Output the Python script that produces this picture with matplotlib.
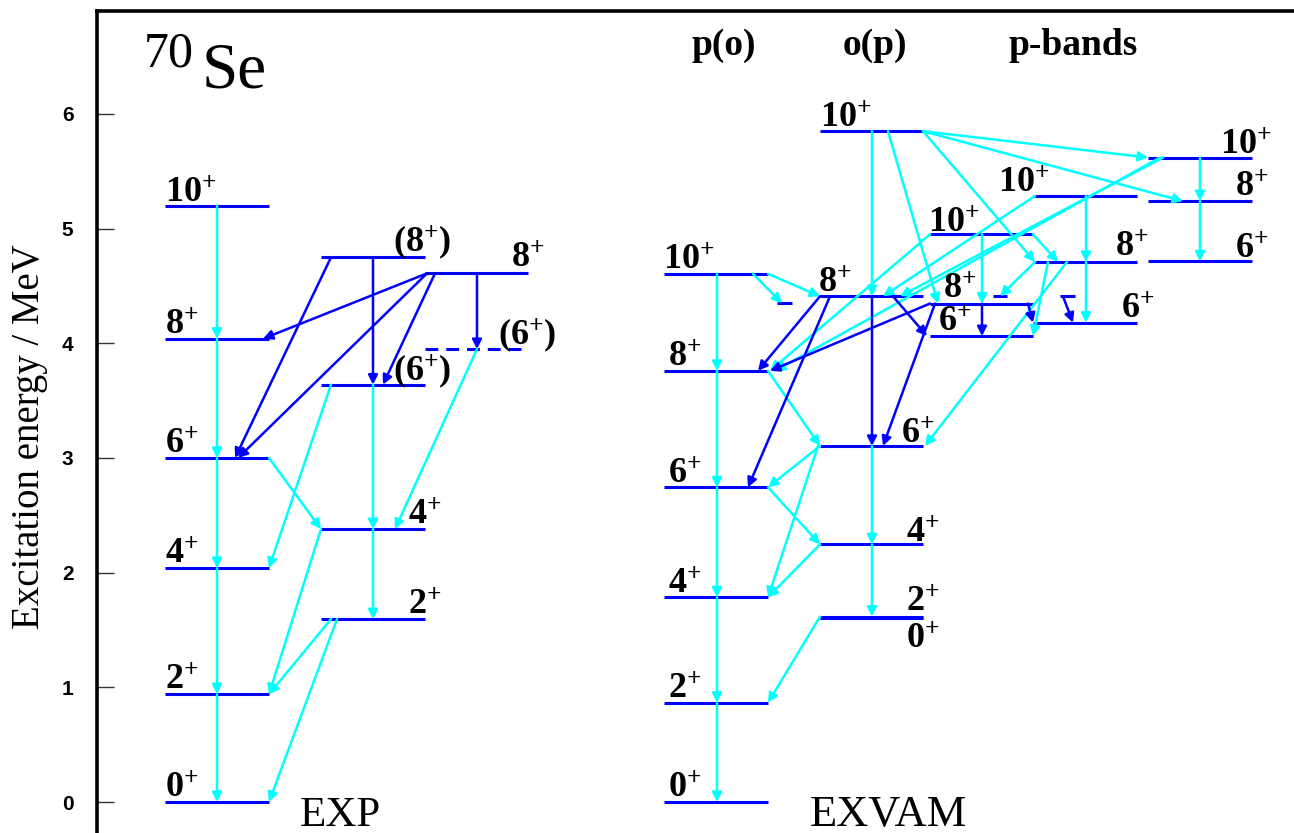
import matplotlib.pyplot as plt

plt.rcParams['mathtext.fontset'] = 'custom'
plt.rcParams['mathtext.rm'] = 'Liberation Serif'
plt.rcParams['mathtext.bf'] = 'Liberation Serif:bold'

# level energies in MeV
exp_gsb = [0.0, 0.94, 2.04, 3.00, 4.04, 5.20]     # 0+ 2+ 4+ 6+ 8+ 10+
exp_side = [1.595, 2.38, 3.64, 4.75]              # 2+ 4+ (6+) (8+)
exp_c = [3.95, 4.61]                              # (6+) 8+
vam_po = [0.0, 0.866, 1.785, 2.744, 3.76, 4.606]  # p(o) 0+ .. 10+
vam_op = [1.607, 1.616, 2.247, 3.105, 4.41, 5.85] # o(p) 0+ 2+ 4+ 6+ 8+ 10+
vam_pa = [4.063, 4.347, 4.95]                     # p-bands 6+ 8+ 10+
vam_pb = [4.18, 4.71, 5.285]
vam_pc = [4.715, 5.24, 5.62]
vam_stub = [4.35, 4.41, 4.41]

spins_gsb = ['0', '2', '4', '6', '8', '10']
spins_op = ['0', '2', '4', '6', '8', '10']
spins_p = ['6', '8', '10']

BLUE = '#0000ff'
CYAN = '#00ffff'
PPM = 114.67  # pixels per MeV in the output

# column extents (x in output pixels)
cols = {'A': (165, 269), 'B': (321, 425), 'C': (425, 528),
        'D': (664, 768), 'E': (820, 923), 'F': (930, 1033),
        'G': (1033, 1137), 'H': (1148, 1252),
        'S0': (777, 792), 'S1': (993, 1007), 'S2': (1060, 1075)}

levels = {}
for s, e in zip(spins_gsb, exp_gsb):
    levels['a' + s] = ('A', e)
for s, e in zip(['2', '4', '6', '8'], exp_side):
    levels['b' + s] = ('B', e)
for s, e in zip(['6', '8'], exp_c):
    levels['c' + s] = ('C', e)
for s, e in zip(spins_gsb, vam_po):
    levels['d' + s] = ('D', e)
for s, e in zip(spins_op, vam_op):
    levels['e' + s] = ('E', e)
for s, e in zip(spins_p, vam_pa):
    levels['f' + s] = ('F', e)
for s, e in zip(spins_p, vam_pb):
    levels['g' + s] = ('G', e)
for s, e in zip(spins_p, vam_pc):
    levels['h' + s] = ('H', e)
for i, e in enumerate(vam_stub):
    levels['s%d' % i] = ('S%d' % i, e)

# transitions: from, to, x start, x end, colour
trans = [
    # EXP
    ('a10', 'a8', 217, 217, CYAN), ('a8', 'a6', 217, 217, CYAN),
    ('a6', 'a4', 217, 217, CYAN), ('a4', 'a2', 217, 217, CYAN),
    ('a2', 'a0', 217, 217, CYAN),
    ('a6', 'b4', 269, 321, CYAN), ('b6', 'a4', 331, 269, CYAN),
    ('b4', 'a2', 321, 269, CYAN), ('b2', 'a2', 331, 269, CYAN),
    ('b2', 'a0', 337, 269, CYAN),
    ('b6', 'b4', 373, 373, CYAN), ('b4', 'b2', 373, 373, CYAN),
    ('c6', 'b4', 477, 395, CYAN),
    ('b8', 'b6', 373, 373, BLUE), ('c8', 'c6', 477, 477, BLUE),
    ('b8', 'a6', 331, 235, BLUE), ('c8', 'a8', 427, 263, BLUE),
    ('c8', 'a6', 427, 238, BLUE), ('c8', 'b6', 435, 383, BLUE),
    # EXVAM
    ('d10', 'd8', 717, 717, CYAN), ('d8', 'd6', 717, 717, CYAN),
    ('d6', 'd4', 717, 717, CYAN), ('d4', 'd2', 717, 717, CYAN),
    ('d2', 'd0', 717, 717, CYAN),
    ('d10', 'e8', 768, 820, CYAN), ('d10', 's0', 753, 782, CYAN),
    ('d8', 'e6', 768, 820, CYAN), ('e6', 'd6', 820, 768, CYAN),
    ('e6', 'd4', 818, 768, CYAN), ('d6', 'e4', 768, 820, CYAN),
    ('e4', 'd4', 820, 768, CYAN), ('e2', 'd2', 820, 768, CYAN),
    ('e10', 'e8', 872, 872, CYAN), ('e6', 'e4', 872, 872, CYAN),
    ('e4', 'e2', 872, 872, CYAN),
    ('e10', 'f8', 888, 938, CYAN), ('e10', 'g8', 923, 1035, CYAN),
    ('e10', 'h10', 923, 1148, CYAN), ('e10', 'h8', 923, 1183, CYAN),
    ('f10', 'g8', 1033, 1058, CYAN), ('f10', 'd8', 930, 770, CYAN),
    ('g10', 'e8', 1035, 883, CYAN), ('h10', 'e8', 1163, 900, CYAN),
    ('h10', 'd8', 1160, 775, CYAN),
    ('f10', 'f8', 982, 982, CYAN),
    ('g10', 'g8', 1086, 1086, CYAN), ('g8', 'g6', 1086, 1086, CYAN),
    ('h10', 'h8', 1200, 1200, CYAN), ('h8', 'h6', 1200, 1200, CYAN),
    ('g8', 's1', 1035, 1000, CYAN), ('g8', 'f6', 1048, 1033, CYAN),
    ('g8', 'e6', 1067, 925, CYAN),
    ('e8', 'd8', 820, 758, BLUE), ('e8', 'd6', 830, 748, BLUE),
    ('e8', 'f6', 893, 927, BLUE), ('e8', 'e6', 872, 872, BLUE),
    ('f8', 'd8', 930, 770, BLUE), ('f8', 'e6', 935, 883, BLUE),
    ('f8', 'f6', 982, 982, BLUE), ('f8', 'g6', 1028, 1033, BLUE),
    ('s2', 'g6', 1063, 1073, BLUE),
]

# level labels: level, text, x, baseline offset in pixels
labels = [
    ('a0', '0', 165, 4), ('a2', '2', 165, 5), ('a4', '4', 165, 4),
    ('a6', '6', 165, 4), ('a8', '8', 165, 4), ('a10', '10', 165, 3),
    ('b2', '2', 408, 4), ('b4', '4', 408, 4), ('b6', '(6)', 393, 4),
    ('b8', '(8)', 393, 5), ('c6', '(6)', 498, 4), ('c8', '8', 511, 6),
    ('d0', '0', 668, 4), ('d2', '2', 668, 4), ('d4', '4', 668, 4),
    ('d6', '6', 668, 4), ('d8', '8', 668, 4), ('d10', '10', 663, 4),
    ('e0', '0', 906, -31), ('e2', '2', 906, 5), ('e4', '4', 906, 2),
    ('e6', '6', 901, 2), ('e8', '8', 818, 4), ('e10', '10', 820, 3),
    ('f6', '6', 938, 4), ('f8', '8', 943, 5), ('f10', '10', 928, 2),
    ('g6', '6', 1121, 4), ('g8', '8', 1115, 5), ('g10', '10', 998, 3),
    ('h6', '6', 1235, 3), ('h8', '8', 1235, 4), ('h10', '10', 1220, 3),
]


def ey(px):
    # output pixel row -> energy
    return (802 - px) / PPM


fig = plt.figure(figsize=(12.94, 8.33), dpi=100)
ax = fig.add_axes([97 / 1294, 0, 1197 / 1294, 822.5 / 833])
ax.set_xlim(97, 1294)
ax.set_ylim(ey(833), ey(10.5))

for name, (col, e) in levels.items():
    x0, x1 = cols[col]
    ls = (0, (4.2, 2.6)) if name == 'c6' else '-'
    ax.plot([x0, x1], [e, e], color=BLUE, lw=2.2, ls=ls, solid_capstyle='butt', zorder=2)

for src, dst, xa, xb, c in trans:
    ax.annotate('', xy=(xb, levels[dst][1]), xytext=(xa, levels[src][1]),
                arrowprops=dict(arrowstyle='-|>,head_length=0.55,head_width=0.28',
                                color=c, lw=1.8, shrinkA=0, shrinkB=0,
                                mutation_scale=10),
                zorder=4 if c == BLUE else 3)

for name, txt, x, dy in labels:
    if txt.startswith('('):
        s = r'$\mathbf{(' + txt[1:-1] + r'^{+})}$'
    else:
        s = r'$\mathbf{' + txt + r'^{+}}$'
    ax.text(x, levels[name][1] + dy / PPM, s, fontsize=26, ha='left', va='baseline', zorder=5)

# nucleus and column titles
ax.text(144, ey(31), '70', family='Liberation Serif', fontsize=36, va='top')
ax.text(202, ey(88), 'Se', family='Liberation Serif', fontsize=47, va='baseline')
for x, t in [(724, 'p(o)'), (875, 'o(p)'), (1073, 'p-bands')]:
    ax.text(x, ey(55), t, family='Liberation Serif', weight='bold', fontsize=27,
            ha='center', va='baseline')
ax.text(300, ey(826), 'EXP', family='Liberation Serif', fontsize=31, va='baseline')
ax.text(810, ey(826), 'EXVAM', family='Liberation Serif', fontsize=32, va='baseline')

fig.text(30 / 1294, 1 - 437 / 833, 'Excitation energy / MeV', family='Liberation Serif',
         fontsize=28, rotation=90, ha='center', va='center')

ax.set_yticks(range(7))
ax.set_xticks([])
ax.tick_params(axis='y', direction='in', length=12, width=1, color='#333', pad=17)
for t in ax.get_yticklabels():
    t.set_family('Liberation Sans')
    t.set_weight('bold')
    t.set_fontsize(15)
for side in ['right', 'bottom']:
    ax.spines[side].set_visible(False)
for side in ['left', 'top']:
    ax.spines[side].set_linewidth(2.6)

fig.savefig('out.png', dpi=100)
